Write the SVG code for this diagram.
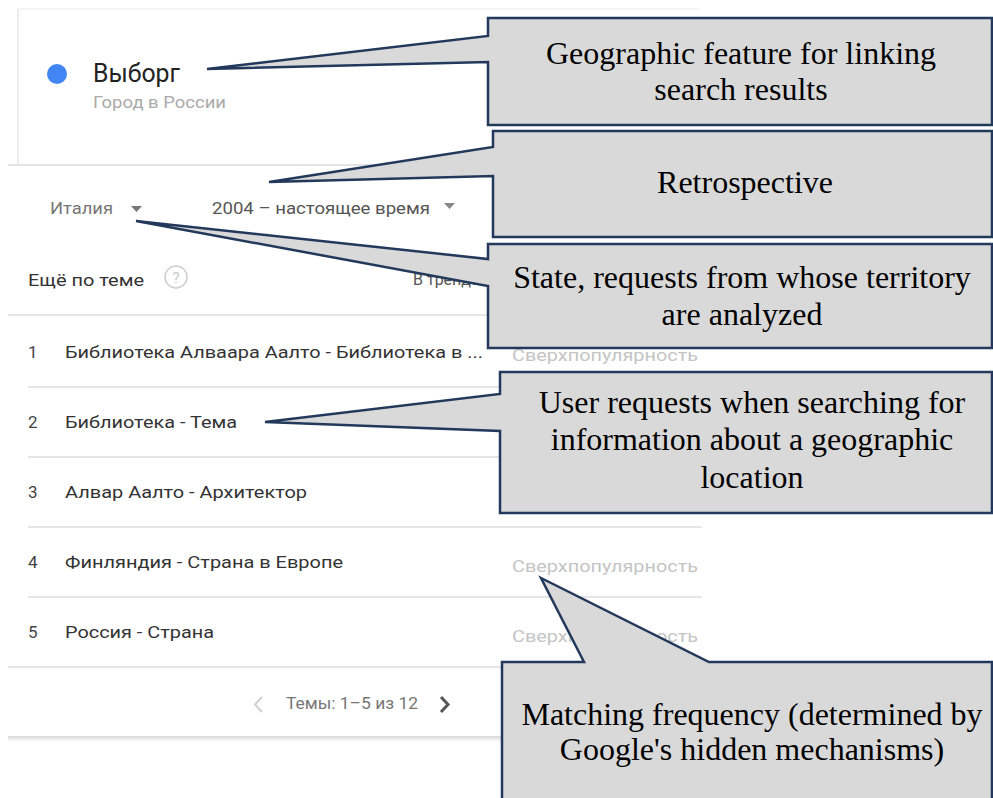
<svg xmlns="http://www.w3.org/2000/svg" width="993" height="798" viewBox="0 0 993 798">
<defs>
<style>
.ui{font-family:Roboto,"Liberation Sans","Noto Sans",sans-serif;}
.row{font-size:17px;fill:#333;}
.num{font-size:17px;fill:#444;}
.pop{font-size:17px;fill:#c4c4c4;}
.sep{stroke:#e6e6e6;stroke-width:2;fill:none;}
.callout{fill:#d9d9d9;stroke:#22395b;stroke-width:2.5;stroke-linejoin:miter;}
.ct{font-family:"Liberation Serif","Times New Roman",serif;font-size:32px;fill:#000;text-anchor:middle;}
</style>
<linearGradient id="shadow" x1="0" y1="0" x2="0" y2="1">
<stop offset="0" stop-color="#d8d8d8"/>
<stop offset="1" stop-color="#ffffff"/>
</linearGradient>
</defs>
<rect width="993" height="798" fill="#ffffff"/>

<g id="screenshot" class="ui">
  <!-- top card -->
  <line x1="18" y1="9" x2="700" y2="9" stroke="#f2f2f2" stroke-width="1.5"/>
  <line x1="18" y1="9" x2="18" y2="165" stroke="#e6e6e6" stroke-width="1.5"/>
  <line x1="8" y1="165" x2="700" y2="165" stroke="#e4e4e4" stroke-width="2"/>
  <circle cx="57" cy="74" r="10" fill="#4285f4"/>
  <text x="93" y="82" font-size="25" fill="#222" textLength="87" lengthAdjust="spacingAndGlyphs">Выборг</text>
  <text x="93" y="108" font-size="16" fill="#aaa" textLength="133" lengthAdjust="spacingAndGlyphs">Город в России</text>

  <!-- filters -->
  <text x="50" y="214" font-size="16" fill="#777" textLength="63" lengthAdjust="spacingAndGlyphs">Италия</text>
  <polygon points="131,206 142,206 136.5,212" fill="#777"/>
  <text x="212" y="214" font-size="16" fill="#555" textLength="218" lengthAdjust="spacingAndGlyphs">2004 – настоящее время</text>
  <polygon points="444,203 455,203 449.5,209" fill="#888"/>

  <text x="28" y="286" font-size="16" fill="#333" textLength="116" lengthAdjust="spacingAndGlyphs">Ещё по теме</text>
  <circle cx="176" cy="277" r="11" fill="none" stroke="#d0d0d0" stroke-width="1.6"/>
  <text x="176" y="283" font-size="15" fill="#c8c8c8" text-anchor="middle">?</text>
  <text x="413" y="285" font-size="16" fill="#555">В тренде</text>

  <!-- separators -->
  <line class="sep" x1="8" y1="315" x2="702" y2="315"/>
  <line class="sep" x1="28" y1="387" x2="702" y2="387"/>
  <line class="sep" x1="28" y1="457" x2="702" y2="457"/>
  <line class="sep" x1="28" y1="527" x2="702" y2="527"/>
  <line class="sep" x1="28" y1="597" x2="702" y2="597"/>
  <line class="sep" x1="8" y1="667" x2="702" y2="667"/>
  <rect x="8" y="736" width="600" height="6" fill="url(#shadow)"/>

  <!-- rows -->
  <text class="num" x="28" y="358">1</text>
  <text class="row" x="65" y="358" textLength="418" lengthAdjust="spacingAndGlyphs">Библиотека Алваара Аалто - Библиотека в ...</text>
  <text class="pop" x="512" y="361" textLength="186" lengthAdjust="spacingAndGlyphs">Сверхпопулярность</text>

  <text class="num" x="28" y="428">2</text>
  <text class="row" x="65" y="428" textLength="172" lengthAdjust="spacingAndGlyphs">Библиотека - Тема</text>

  <text class="num" x="28" y="498">3</text>
  <text class="row" x="65" y="498" textLength="242" lengthAdjust="spacingAndGlyphs">Алвар Аалто - Архитектор</text>

  <text class="num" x="28" y="568">4</text>
  <text class="row" x="65" y="568" textLength="278" lengthAdjust="spacingAndGlyphs">Финляндия - Страна в Европе</text>
  <text class="pop" x="512" y="572" textLength="186" lengthAdjust="spacingAndGlyphs">Сверхпопулярность</text>

  <text class="num" x="28" y="638">5</text>
  <text class="row" x="65" y="638" textLength="149" lengthAdjust="spacingAndGlyphs">Россия - Страна</text>
  <text class="pop" x="512" y="642" textLength="186" lengthAdjust="spacingAndGlyphs">Сверхпопулярность</text>

  <!-- pagination -->
  <polyline points="262,697 255,704.5 262,712" fill="none" stroke="#d0d0d0" stroke-width="2"/>
  <text x="286" y="709" font-size="16" fill="#777" textLength="132" lengthAdjust="spacingAndGlyphs">Темы: 1–5 из 12</text>
  <polyline points="441,697 448,704.5 441,712" fill="none" stroke="#555" stroke-width="3"/>
</g>

<g id="connectors"></g>

<g id="callout-geographic">
  <path class="callout" d="M488,18 H992 V125 H488 V62 L207,69 L488,36 Z"/>
  <text class="ct" x="741" y="64">Geographic feature for linking</text>
  <text class="ct" x="741" y="100">search results</text>
</g>

<g id="callout-retrospective">
  <path class="callout" d="M493,131 H992 V237 H493 V176 L269,182 L493,147 Z"/>
  <text class="ct" x="745" y="193">Retrospective</text>
</g>

<g id="callout-state">
  <path class="callout" d="M488,244 H992 V348 H488 V286 L136,221 L488,259 Z"/>
  <text class="ct" x="742" y="288">State, requests from whose territory</text>
  <text class="ct" x="742" y="325">are analyzed</text>
</g>

<g id="callout-user-requests">
  <path class="callout" d="M500,372 H992 V513 H500 V431 L265,422 L500,394 Z"/>
  <text class="ct" x="752" y="413">User requests when searching for</text>
  <text class="ct" x="752" y="450">information about a geographic</text>
  <text class="ct" x="752" y="488">location</text>
</g>

<g id="callout-frequency">
  <path class="callout" d="M502,662 H584 L541,578 L709,662 H992 V805 H502 Z"/>
  <text class="ct" x="752" y="725">Matching frequency (determined by</text>
  <text class="ct" x="752" y="760">Google's hidden mechanisms)</text>
</g>
</svg>
